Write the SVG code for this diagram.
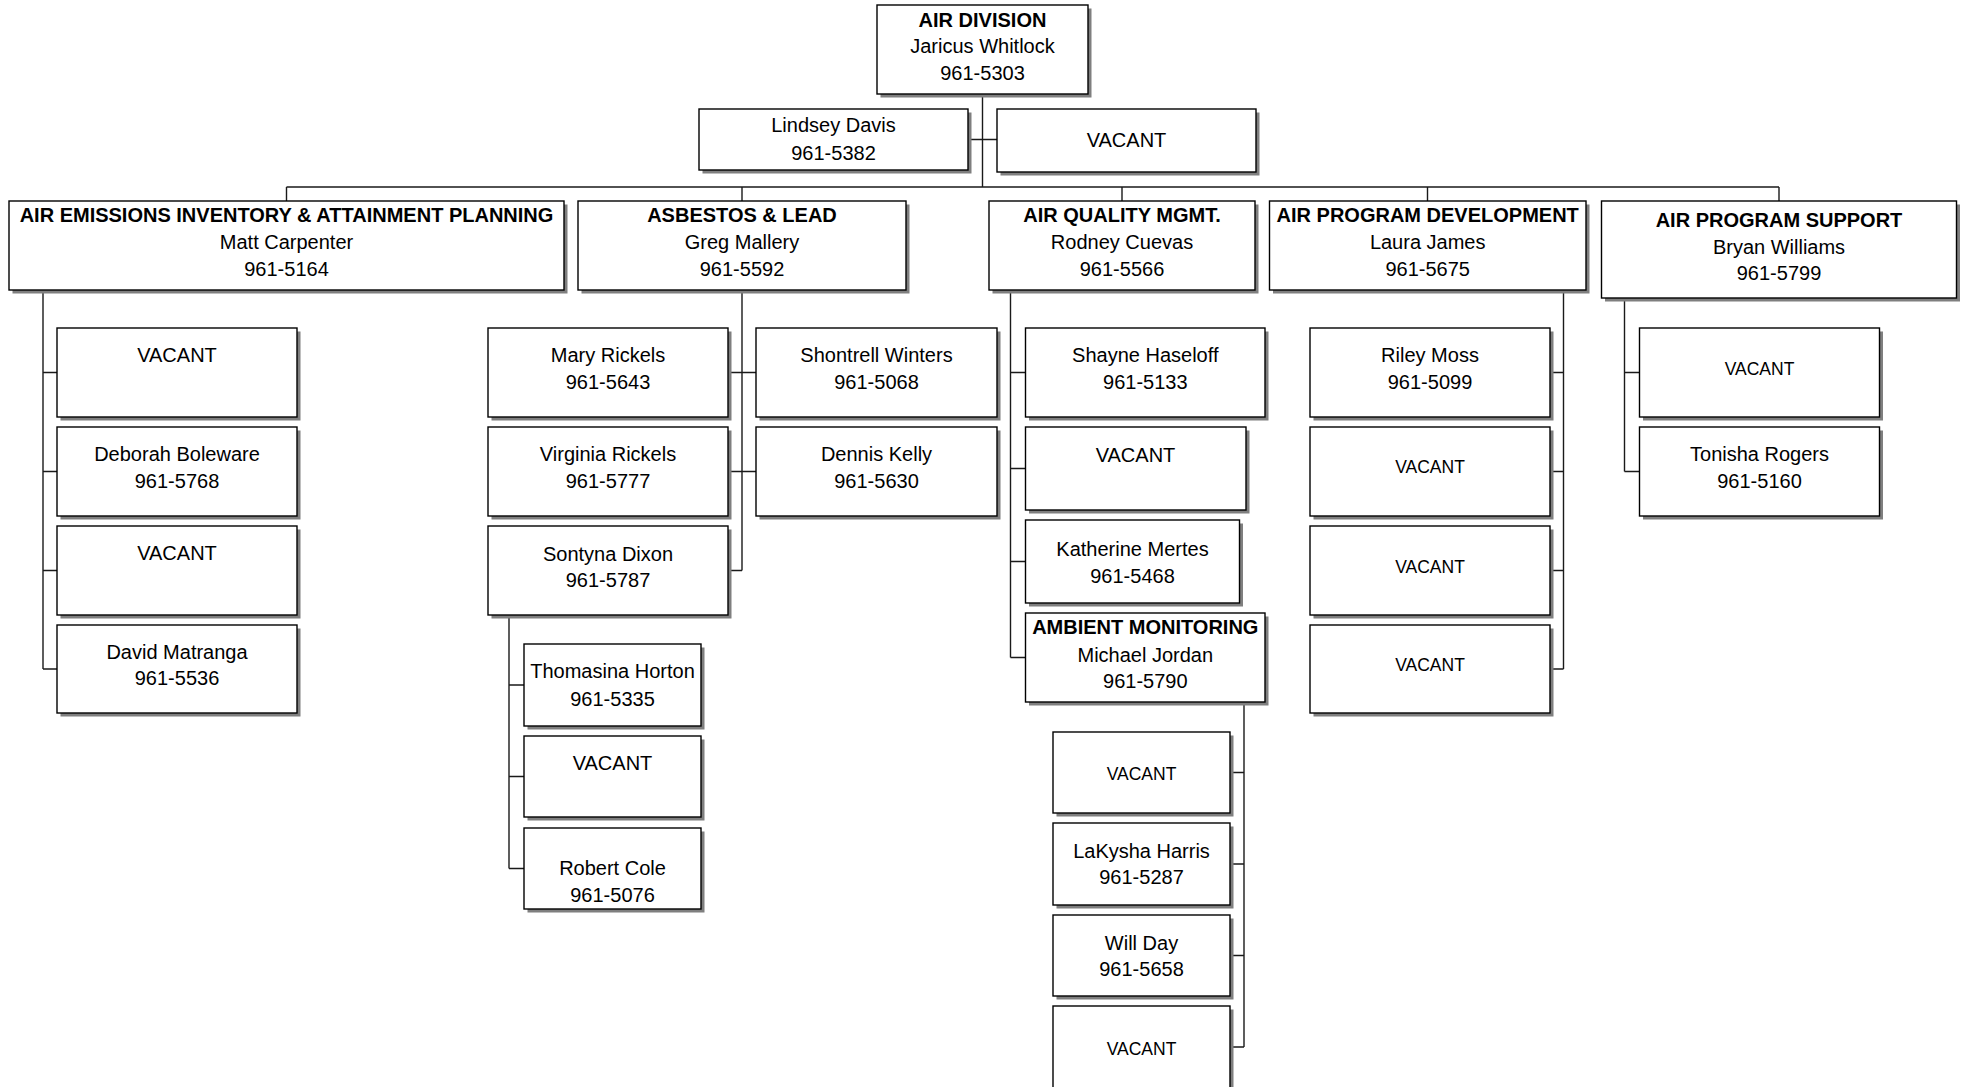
<svg xmlns="http://www.w3.org/2000/svg" width="1967" height="1087" viewBox="0 0 1967 1087">
<style>
.sh{fill:#7f7f7f;stroke:none}
.bx{fill:#fff;stroke:#000;stroke-width:1.4}
text{font-family:"Liberation Sans",Arial,sans-serif;font-size:20px;fill:#000;text-anchor:middle}
.b{font-weight:bold}
.s{font-size:17.5px}
.cn{stroke:#1a1a1a;stroke-width:1.4;fill:none}
</style>
<rect width="1967" height="1087" fill="#fff"/>
<g id="connectors" class="cn">
<path d="M982.5 94V187M968 139.5H997M286.5 187H1779M286.5 187V201M742 187V201M1122 187V201M1427.5 187V201M1779 187V201"/>
<path d="M43 290V669M43 372.5H57M43 471.5H57M43 570.5H57M43 669H57"/>
<path d="M742 290V570.5M728 372.5H756M728 471.5H756M728 570.5H742"/>
<path d="M509 615V868.5M509 685H524M509 776.5H524M509 868.5H524"/>
<path d="M1010.5 290V657.5M1010.5 372.5H1025.5M1010.5 468.5H1025.5M1010.5 561.5H1025.5M1010.5 657.5H1025.5"/>
<path d="M1244 702V1047M1230 772.5H1244M1230 864H1244M1230 955.5H1244M1230 1047H1244"/>
<path d="M1563.5 290V669M1550 372.5H1563.5M1550 471.5H1563.5M1550 570.5H1563.5M1550 669H1563.5"/>
<path d="M1624.5 298V471.5M1624.5 372.5H1639.5M1624.5 471.5H1639.5"/>
</g>
<g id="air-division"><rect class="sh" x="880.5" y="8.5" width="211" height="89"/><rect class="bx" x="877" y="5" width="211" height="89"/>
<text class="b" x="982.5" y="27">AIR DIVISION</text><text x="982.5" y="53.3">Jaricus Whitlock</text><text x="982.5" y="79.5">961-5303</text></g>
<g id="lindsey-davis"><rect class="sh" x="702.5" y="112.5" width="269" height="61"/><rect class="bx" x="699" y="109" width="269" height="61"/>
<text x="833.5" y="132.3">Lindsey Davis</text><text x="833.5" y="160">961-5382</text></g>
<g id="division-vacant"><rect class="sh" x="1000.5" y="112.5" width="259" height="63"/><rect class="bx" x="997" y="109" width="259" height="63"/>
<text x="1126.5" y="147.3">VACANT</text></g>
<g id="aeiap"><rect class="sh" x="12.5" y="204.5" width="555" height="89"/><rect class="bx" x="9" y="201" width="555" height="89"/>
<text class="b" x="286.5" y="222">AIR EMISSIONS INVENTORY &amp; ATTAINMENT PLANNING</text><text x="286.5" y="248.5">Matt Carpenter</text><text x="286.5" y="275.5">961-5164</text></g>
<g id="asbestos-lead"><rect class="sh" x="581.5" y="204.5" width="328" height="89"/><rect class="bx" x="578" y="201" width="328" height="89"/>
<text class="b" x="742" y="222">ASBESTOS &amp; LEAD</text><text x="742" y="248.5">Greg Mallery</text><text x="742" y="275.5">961-5592</text></g>
<g id="air-quality-mgmt"><rect class="sh" x="992.5" y="204.5" width="266" height="89"/><rect class="bx" x="989" y="201" width="266" height="89"/>
<text class="b" x="1122" y="222">AIR QUALITY MGMT.</text><text x="1122" y="248.5">Rodney Cuevas</text><text x="1122" y="275.5">961-5566</text></g>
<g id="air-program-development"><rect class="sh" x="1273" y="204.5" width="316.5" height="89"/><rect class="bx" x="1269.5" y="201" width="316.5" height="89"/>
<text class="b" x="1427.7" y="222">AIR PROGRAM DEVELOPMENT</text><text x="1427.7" y="248.5">Laura James</text><text x="1427.7" y="275.5">961-5675</text></g>
<g id="air-program-support"><rect class="sh" x="1605" y="204.5" width="355" height="97"/><rect class="bx" x="1601.5" y="201" width="355" height="97"/>
<text class="b" x="1779" y="227">AIR PROGRAM SUPPORT</text><text x="1779" y="254">Bryan Williams</text><text x="1779" y="280">961-5799</text></g>
<g id="aeiap-vacant-1"><rect class="sh" x="60.5" y="331.5" width="240" height="89"/><rect class="bx" x="57" y="328" width="240" height="89"/>
<text x="177" y="362">VACANT</text></g>
<g id="deborah-boleware"><rect class="sh" x="60.5" y="430.5" width="240" height="89"/><rect class="bx" x="57" y="427" width="240" height="89"/>
<text x="177" y="461">Deborah Boleware</text><text x="177" y="487.5">961-5768</text></g>
<g id="aeiap-vacant-2"><rect class="sh" x="60.5" y="529.5" width="240" height="89"/><rect class="bx" x="57" y="526" width="240" height="89"/>
<text x="177" y="560">VACANT</text></g>
<g id="david-matranga"><rect class="sh" x="60.5" y="628.5" width="240" height="88"/><rect class="bx" x="57" y="625" width="240" height="88"/>
<text x="177" y="658.5">David Matranga</text><text x="177" y="684.5">961-5536</text></g>
<g id="mary-rickels"><rect class="sh" x="491.5" y="331.5" width="240" height="89"/><rect class="bx" x="488" y="328" width="240" height="89"/>
<text x="608" y="362">Mary Rickels</text><text x="608" y="388.5">961-5643</text></g>
<g id="virginia-rickels"><rect class="sh" x="491.5" y="430.5" width="240" height="89"/><rect class="bx" x="488" y="427" width="240" height="89"/>
<text x="608" y="461">Virginia Rickels</text><text x="608" y="487.5">961-5777</text></g>
<g id="sontyna-dixon"><rect class="sh" x="491.5" y="529.5" width="240" height="89"/><rect class="bx" x="488" y="526" width="240" height="89"/>
<text x="608" y="561">Sontyna Dixon</text><text x="608" y="587">961-5787</text></g>
<g id="shontrell-winters"><rect class="sh" x="759.5" y="331.5" width="241" height="89"/><rect class="bx" x="756" y="328" width="241" height="89"/>
<text x="876.5" y="362">Shontrell Winters</text><text x="876.5" y="388.5">961-5068</text></g>
<g id="dennis-kelly"><rect class="sh" x="759.5" y="430.5" width="241" height="89"/><rect class="bx" x="756" y="427" width="241" height="89"/>
<text x="876.5" y="461">Dennis Kelly</text><text x="876.5" y="487.5">961-5630</text></g>
<g id="thomasina-horton"><rect class="sh" x="527.5" y="647.5" width="177" height="82"/><rect class="bx" x="524" y="644" width="177" height="82"/>
<text x="612.5" y="678.3">Thomasina Horton</text><text x="612.5" y="705.7">961-5335</text></g>
<g id="sontyna-vacant"><rect class="sh" x="527.5" y="739.5" width="177" height="81"/><rect class="bx" x="524" y="736" width="177" height="81"/>
<text x="612.5" y="770">VACANT</text></g>
<g id="robert-cole"><rect class="sh" x="527.5" y="831.5" width="177" height="81"/><rect class="bx" x="524" y="828" width="177" height="81"/>
<text x="612.5" y="875">Robert Cole</text><text x="612.5" y="901.7">961-5076</text></g>
<g id="shayne-haseloff"><rect class="sh" x="1029" y="331.5" width="239.5" height="89"/><rect class="bx" x="1025.5" y="328" width="239.5" height="89"/>
<text x="1145.3" y="362">Shayne Haseloff</text><text x="1145.3" y="388.5">961-5133</text></g>
<g id="aqm-vacant"><rect class="sh" x="1029" y="430.5" width="220.5" height="83"/><rect class="bx" x="1025.5" y="427" width="220.5" height="83"/>
<text x="1135.5" y="462.3">VACANT</text></g>
<g id="katherine-mertes"><rect class="sh" x="1029" y="523.5" width="214" height="83"/><rect class="bx" x="1025.5" y="520" width="214" height="83"/>
<text x="1132.5" y="556">Katherine Mertes</text><text x="1132.5" y="582.7">961-5468</text></g>
<g id="ambient-monitoring"><rect class="sh" x="1029" y="616.5" width="239.5" height="89"/><rect class="bx" x="1025.5" y="613" width="239.5" height="89"/>
<text class="b" x="1145.3" y="634.3">AMBIENT MONITORING</text><text x="1145.3" y="661.7">Michael Jordan</text><text x="1145.3" y="687.7">961-5790</text></g>
<g id="ambient-vacant-1"><rect class="sh" x="1056.5" y="735.5" width="177" height="81"/><rect class="bx" x="1053" y="732" width="177" height="81"/>
<text class="s" x="1141.5" y="780">VACANT</text></g>
<g id="lakysha-harris"><rect class="sh" x="1056.5" y="826.5" width="177" height="82"/><rect class="bx" x="1053" y="823" width="177" height="82"/>
<text x="1141.5" y="858">LaKysha Harris</text><text x="1141.5" y="884">961-5287</text></g>
<g id="will-day"><rect class="sh" x="1056.5" y="918.5" width="177" height="81"/><rect class="bx" x="1053" y="915" width="177" height="81"/>
<text x="1141.5" y="950">Will Day</text><text x="1141.5" y="976">961-5658</text></g>
<g id="ambient-vacant-2"><rect class="sh" x="1056.5" y="1009.5" width="177" height="100"/><rect class="bx" x="1053" y="1006" width="177" height="100"/>
<text class="s" x="1141.5" y="1054.7">VACANT</text></g>
<g id="riley-moss"><rect class="sh" x="1313.5" y="331.5" width="240" height="89"/><rect class="bx" x="1310" y="328" width="240" height="89"/>
<text x="1430" y="362">Riley Moss</text><text x="1430" y="388.5">961-5099</text></g>
<g id="apd-vacant-1"><rect class="sh" x="1313.5" y="430.5" width="240" height="89"/><rect class="bx" x="1310" y="427" width="240" height="89"/>
<text class="s" x="1430" y="473.3">VACANT</text></g>
<g id="apd-vacant-2"><rect class="sh" x="1313.5" y="529.5" width="240" height="89"/><rect class="bx" x="1310" y="526" width="240" height="89"/>
<text class="s" x="1430" y="573.3">VACANT</text></g>
<g id="apd-vacant-3"><rect class="sh" x="1313.5" y="628.5" width="240" height="88"/><rect class="bx" x="1310" y="625" width="240" height="88"/>
<text class="s" x="1430" y="670.7">VACANT</text></g>
<g id="aps-vacant"><rect class="sh" x="1643" y="331.5" width="240" height="89"/><rect class="bx" x="1639.5" y="328" width="240" height="89"/>
<text class="s" x="1759.5" y="375">VACANT</text></g>
<g id="tonisha-rogers"><rect class="sh" x="1643" y="430.5" width="240" height="89"/><rect class="bx" x="1639.5" y="427" width="240" height="89"/>
<text x="1759.5" y="461">Tonisha Rogers</text><text x="1759.5" y="487.5">961-5160</text></g>
</svg>
